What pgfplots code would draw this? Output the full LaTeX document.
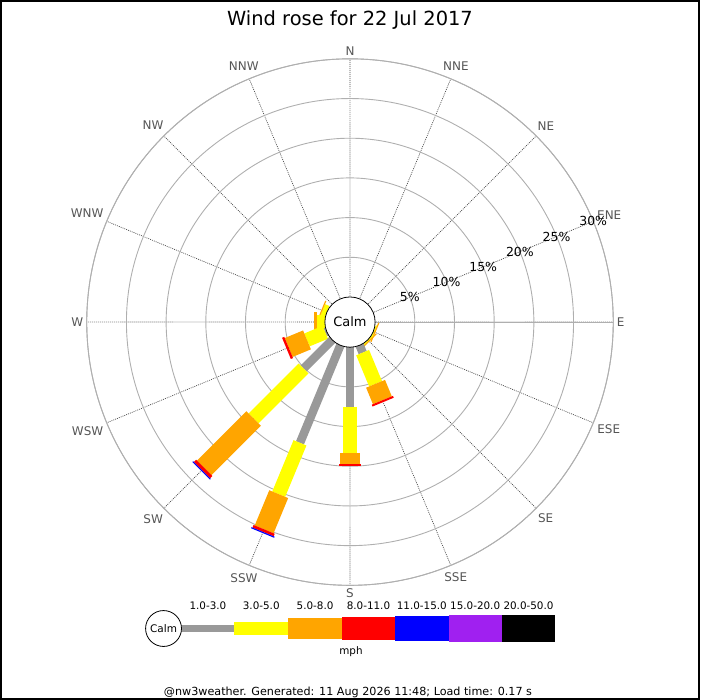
\documentclass[border=0pt]{standalone}
\usepackage{fontspec}
\setmainfont{DejaVu Sans}
\usepackage{pgfplots}
\pgfplotsset{compat=1.18}
\usepgfplotslibrary{polar}
\definecolor{cgrey}{RGB}{153,153,153}
\definecolor{cyellow}{RGB}{255,255,0}
\definecolor{corange}{RGB}{255,165,0}
\definecolor{cred}{RGB}{255,0,0}
\definecolor{cblue}{RGB}{0,0,255}
\definecolor{cpurple}{RGB}{160,32,240}
\definecolor{cring}{RGB}{175,175,175}
\definecolor{cspoke}{RGB}{70,70,70}
\definecolor{clabel}{RGB}{85,85,85}
\begin{document}
\begin{tikzpicture}
\begin{polaraxis}[
  name=rose,
  scale only axis, width=528pt, height=528pt,
  xmin=0, xmax=360, ymin=0, ymax=33.165,
  xtick={0,22.5,45,67.5,90,112.5,135,157.5,180,202.5,225,247.5,270,292.5,315,337.5},
  xticklabels={E,ENE,NE,NNE,N,NNW,NW,WNW,W,WSW,SW,SSW,S,SSE,SE,ESE},
  xticklabel style={font=\fontsize{12}{14}\selectfont, text=clabel},
  ytick={8.165,13.165,18.165,23.165,28.165,33.165},
  yticklabels={},
  xmajorgrids, ymajorgrids,
  x grid style={dash pattern=on 0.9pt off 1.1pt, cspoke, line width=0.7pt},
  y grid style={cring, line width=0.9pt},
  axis line style={cring, line width=0.9pt},
  major tick length=0pt,
  y filter/.expression={y+3.165},
  clip=false,
]
% WNW
\addplot[cyellow, line width=14pt] coordinates {(157.5,0) (157.5,0.6)};
\addplot[corange, line width=20.5pt] coordinates {(157.5,0.6) (157.5,0.75)};
% W
\addplot[cyellow, line width=14pt] coordinates {(180,0) (180,1.0)};
\addplot[corange, line width=20.5pt] coordinates {(180,1.0) (180,1.36)};
% ESE
\addplot[cyellow, line width=14pt] coordinates {(337.5,0) (337.5,0.15)};
\addplot[corange, line width=20.5pt] coordinates {(337.5,0.15) (337.5,0.3)};
% SE
\addplot[cyellow, line width=14pt] coordinates {(315,0) (315,0.15)};
\addplot[corange, line width=20.5pt] coordinates {(315,0.15) (315,0.3)};
% WSW
\addplot[cgrey, line width=8.6pt] coordinates {(202.5,0) (202.5,0.2)};
\addplot[cyellow, line width=14pt] coordinates {(202.5,0.2) (202.5,2.7)};
\addplot[corange, line width=20.5pt] coordinates {(202.5,2.7) (202.5,5.2)};
\addplot[cred, line width=23pt] coordinates {(202.5,5.2) (202.5,5.5)};
% SW
\addplot[cgrey, line width=8.6pt] coordinates {(225,0) (225,5.1)};
\addplot[cyellow, line width=14pt] coordinates {(225,5.1) (225,14.0)};
\addplot[corange, line width=20.5pt] coordinates {(225,14.0) (225,22.8)};
\addplot[cred, line width=23pt] coordinates {(225,22.8) (225,23.2)};
\addplot[cblue, line width=25pt] coordinates {(225,23.2) (225,23.35)};
% SSW
\addplot[cgrey, line width=8.6pt] coordinates {(247.5,0) (247.5,13.3)};
\addplot[cyellow, line width=14pt] coordinates {(247.5,13.3) (247.5,20.3)};
\addplot[corange, line width=20.5pt] coordinates {(247.5,20.3) (247.5,25.1)};
\addplot[cred, line width=23pt] coordinates {(247.5,25.1) (247.5,25.45)};
\addplot[cblue, line width=25pt] coordinates {(247.5,25.45) (247.5,25.6)};
% S
\addplot[cgrey, line width=8.6pt] coordinates {(270,0) (270,7.5)};
\addplot[cyellow, line width=14pt] coordinates {(270,7.5) (270,13.3)};
\addplot[corange, line width=20.5pt] coordinates {(270,13.3) (270,14.7)};
\addplot[cred, line width=23pt] coordinates {(270,14.7) (270,14.95)};
% SSE
\addplot[cgrey, line width=8.6pt] coordinates {(292.5,0) (292.5,1.0)};
\addplot[cyellow, line width=14pt] coordinates {(292.5,1.0) (292.5,5.25)};
\addplot[corange, line width=20.5pt] coordinates {(292.5,5.25) (292.5,7.5)};
\addplot[cred, line width=23pt] coordinates {(292.5,7.5) (292.5,7.75)};
% ring labels
\foreach \p/\r in {5/8.165,10/13.165,15/18.165,20/23.165,25/28.165,30/33.165}{
  \edef\tmp{\noexpand\node[font=\noexpand\fontsize{12.5}{14}\noexpand\selectfont, inner sep=0pt] at (axis cs:22.5,\r) {\p\noexpand\%};}
  \tmp
}
\draw[fill=white, line width=0.8pt] (axis cs:0,0) circle[radius=25.2pt];
\node[font=\fontsize{13}{15}\selectfont] at (axis cs:0,0) {Calm};
\coordinate (C) at (axis cs:0,0);
\end{polaraxis}
\begin{scope}[shift={(C)}, x=1pt, y=1pt]
  \draw[line width=2pt] (-350,-378) rectangle (350,322);
  \node[anchor=base, font=\fontsize{19.5}{21}\selectfont, inner sep=0pt] at (0,297) {Wind rose for 22 Jul 2017};
  % legend
  \fill[cgrey] (-169,-311.3) rectangle (-116,-303.3);
  \fill[cyellow] (-116,-314.3) rectangle (-62,-300.3);
  \fill[corange] (-62,-317.55) rectangle (-8,-297.05);
  \fill[cred] (-8,-318.8) rectangle (45,-295.8);
  \fill[cblue] (45,-319.8) rectangle (99,-294.8);
  \fill[cpurple] (99,-320.8) rectangle (152,-293.8);
  \fill[black] (152,-321.3) rectangle (206,-293.3);
  \draw[fill=white, line width=0.8pt] (-187,-307.3) circle (18);
  \node[font=\fontsize{10.5}{12}\selectfont] at (-187,-307.3) {Calm};
  \begin{scope}[every node/.style={font=\fontsize{10.4}{12}\selectfont, inner sep=0pt}]
  \node at (-142.5,-284.7) {1.0-3.0};
  \node at (-89,-284.7) {3.0-5.0};
  \node at (-35,-284.7) {5.0-8.0};
  \node at (18.5,-284.7) {8.0-11.0};
  \node at (72,-284.7) {11.0-15.0};
  \node at (125.5,-284.7) {15.0-20.0};
  \node at (179,-284.7) {20.0-50.0};
  \node at (1,-331) {mph};
  \node[font=\fontsize{11.2}{13}\selectfont] at (-2,-371) {@nw3weather. Generated: 11 Aug 2026 11:48; Load time: 0.17 s};
  \end{scope}
\end{scope}
\end{tikzpicture}
\end{document}
